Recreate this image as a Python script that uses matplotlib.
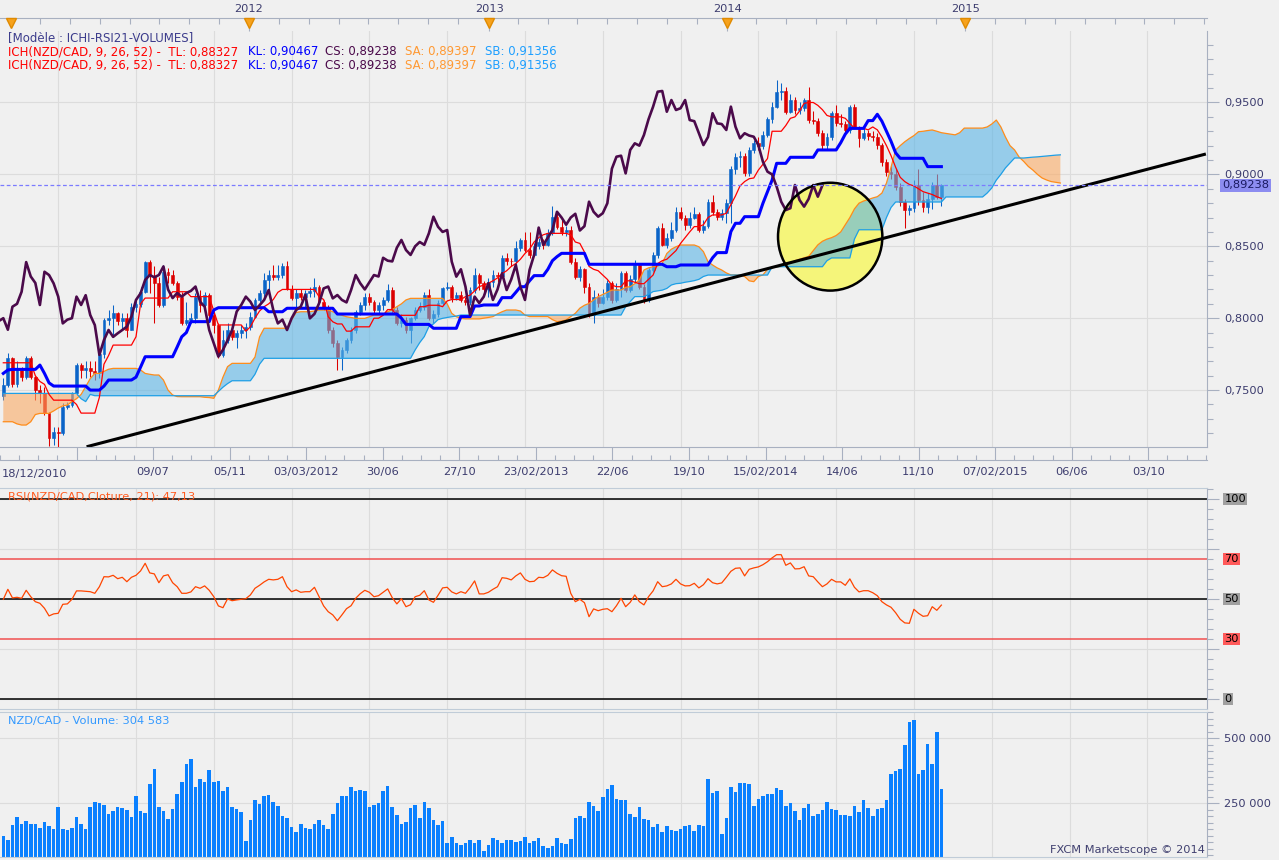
import numpy as np
import matplotlib
matplotlib.use("Agg")
import matplotlib.pyplot as plt
from matplotlib.patches import Ellipse
from matplotlib.ticker import MultipleLocator
import matplotlib.transforms as mtransforms

# ------------------------------------------------------------------ data
# weekly NZD/CAD candles, week 0 = 18/12/2010
first_open = 0.7461
close = [
    .7535, .7720, .7540, .7640, .7590, .7720, .7590, .7500, .7480, .7340,
    .7165, .7211, .7200, .7384, .7396, .7477, .7674, .7640, .7655, .7630,
    .7616, .7750, .7987, .8000, .8034, .7980, .8000, .7920, .8080, .8100,
    .8184, .8390, .8290, .8245, .8092, .8323, .8300, .8242, .8150, .7964,
    .7990, .8000, .8150, .8092, .8160, .8022, .7952, .7745, .7848, .7918,
    .7870, .7895, .7918, .7941, .8011, .8127, .8173, .8266, .8300, .8285,
    .8300, .8360, .8200, .8140, .8175, .8150, .8175, .8190, .8220, .8115,
    .8080, .7918, .7825, .7733, .7780, .7846, .7918, .8046, .8092, .8150,
    .8115, .8057, .8090, .8127, .8196, .8057, .7964, .7990, .7918, .7999,
    .8057, .8080, .8161, .7999, .8030, .8103, .8207, .8220, .8138, .8161,
    .8127, .8110, .8196, .8300, .8243, .8200, .8250, .8300, .8290, .8420,
    .8400, .8395, .8490, .8544, .8474, .8440, .8500, .8530, .8510, .8590,
    .8706, .8636, .8600, .8613, .8393, .8289, .8340, .8219, .8022, .8150,
    .8105, .8150, .8243, .8127, .8200, .8312, .8196, .8270, .8370, .8219,
    .8127, .8335, .8440, .8630, .8510, .8560, .8613, .8740, .8700, .8650,
    .8700, .8726, .8610, .8640, .8810, .8740, .8706, .8730, .8799, .9040,
    .9123, .9130, .9007, .9170, .9216, .9200, .9274, .9383, .9471, .9575,
    .9580, .9436, .9517, .9448, .9460, .9517, .9378, .9370, .9286, .9204,
    .9260, .9425, .9355, .9350, .9309, .9471, .9332, .9251, .9286, .9270,
    .9262, .9204, .9088, .9019, .9000, .8915, .8810, .8752, .8765, .8926,
    .8822, .8776, .8830, .8926, .8845, .8924]
high = [
    .7582, .7755, .7730, .7700, .7660, .7735, .7735, .7600, .7535, .7520,
    .7350, .7245, .7245, .7408, .7420, .7490, .7686, .7686, .7700, .7700,
    .7700, .7755, .7999, .8057, .8092, .8045, .8034, .8034, .8103, .8130,
    .8219, .8396, .8404, .8360, .8289, .8370, .8346, .8335, .8260, .8184,
    .8115, .8034, .8173, .8196, .8184, .8173, .8034, .7964, .7918, .7964,
    .7940, .7918, .7950, .7964, .8040, .8140, .8196, .8312, .8335, .8370,
    .8370, .8382, .8400, .8231, .8200, .8200, .8196, .8220, .8277, .8231,
    .8130, .8092, .7941, .7848, .7800, .7860, .7940, .8060, .8115, .8173,
    .8173, .8127, .8115, .8150, .8240, .8220, .8080, .8030, .8011, .8011,
    .8080, .8115, .8185, .8200, .8057, .8127, .8220, .8254, .8231, .8180,
    .8190, .8150, .8220, .8346, .8312, .8260, .8280, .8335, .8320, .8440,
    .8450, .8420, .8540, .8560, .8600, .8600, .8520, .8560, .8550, .8620,
    .8780, .8740, .8680, .8640, .8640, .8420, .8360, .8350, .8243, .8196,
    .8175, .8200, .8266, .8260, .8243, .8325, .8330, .8300, .8405, .8382,
    .8240, .8350, .8460, .8640, .8660, .8590, .8670, .8775, .8775, .8720,
    .8740, .8776, .8740, .8680, .8830, .8860, .8760, .8760, .8830, .9060,
    .9150, .9160, .9150, .9190, .9240, .9262, .9300, .9400, .9500, .9656,
    .9635, .9610, .9560, .9540, .9500, .9530, .9610, .9440, .9390, .9310,
    .9290, .9440, .9480, .9420, .9370, .9485, .9490, .9340, .9320, .9310,
    .9300, .9290, .9220, .9110, .9060, .9040, .8940, .8830, .8790, .8960,
    .9040, .8880, .8870, .8950, .9000, .8935]
low = [
    .7431, .7523, .7523, .7523, .7560, .7575, .7575, .7431, .7408, .7330,
    .7110, .7118, .7106, .7190, .7370, .7384, .7465, .7582, .7582, .7593,
    .7570, .7582, .7721, .7950, .7880, .7950, .7918, .7871, .7918, .8040,
    .8080, .8173, .8173, .7964, .8080, .8080, .8242, .8230, .8130, .7952,
    .7950, .7964, .7964, .8046, .8060, .8000, .7900, .7721, .7733, .7825,
    .7850, .7790, .7860, .7860, .7920, .7999, .8110, .8150, .8196, .8266,
    .8266, .8280, .8196, .8127, .8080, .8127, .8080, .8150, .8150, .8103,
    .8057, .7900, .7800, .7640, .7640, .7760, .7825, .7900, .8022, .8057,
    .8092, .8034, .8030, .8060, .8115, .8034, .7950, .7941, .7895, .7825,
    .7990, .8040, .8060, .7990, .7964, .8011, .8090, .8196, .8115, .8127,
    .8115, .8090, .8090, .8173, .8196, .8173, .8150, .8220, .8250, .8280,
    .8370, .8360, .8370, .8470, .8460, .8420, .8430, .8480, .8480, .8500,
    .8580, .8620, .8580, .8570, .8380, .8270, .8260, .8173, .8011, .7964,
    .8080, .8100, .8127, .8103, .8110, .8150, .8180, .8180, .8254, .8200,
    .8103, .8110, .8320, .8420, .8500, .8490, .8540, .8600, .8680, .8610,
    .8630, .8690, .8600, .8590, .8630, .8720, .8680, .8680, .8660, .8660,
    .9000, .9050, .8990, .8990, .9150, .9170, .9180, .9260, .9360, .9460,
    .9520, .9420, .9425, .9420, .9420, .9440, .9360, .9350, .9270, .9170,
    .9180, .9240, .9340, .9330, .9290, .9290, .9320, .9190, .9240, .9240,
    .9230, .9180, .9060, .8990, .8970, .8890, .8780, .8627, .8720, .8740,
    .8790, .8740, .8730, .8760, .8830, .8780]
tenkan = [
    .7690, .7690, .7690, .7690, .7690, .7690, .7690, .7600, .7560, .7540,
    .7470, .7430, .7430, .7430, .7430, .7430, .7400, .7340, .7340, .7340,
    .7340, .7450, .7680, .7740, .7813, .7813, .7813, .7813, .7813, .7871,
    .8100, .8140, .8140, .8140, .8140, .8140, .8140, .8184, .8184, .8184,
    .8184, .8150, .8150, .8150, .8150, .8150, .8050, .7953, .7953, .7953,
    .7953, .7953, .7953, .7910, .7940, .8000, .8050, .8080, .8100, .8130,
    .8180, .8200, .8200, .8200, .8200, .8200, .8200, .8200, .8200, .8150,
    .8130, .8010, .7975, .7960, .7960, .7910, .7910, .7940, .7940, .7940,
    .7940, .8000, .8000, .8020, .8060, .8060, .8020, .8020, .8020, .8020,
    .8020, .8080, .8080, .8090, .8090, .8090, .8080, .8120, .8130, .8130,
    .8130, .8150, .8160, .8190, .8220, .8230, .8243, .8260, .8280, .8310,
    .8330, .8360, .8380, .8410, .8450, .8480, .8530, .8560, .8580, .8590,
    .8590, .8590, .8590, .8590, .8580, .8530, .8520, .8460, .8360, .8340,
    .8330, .8300, .8270, .8230, .8219, .8219, .8260, .8260, .8250, .8240,
    .8240, .8270, .8300, .8380, .8400, .8410, .8440, .8470, .8520, .8560,
    .8600, .8637, .8637, .8650, .8700, .8718, .8718, .8718, .8730, .8790,
    .8850, .8920, .8950, .8970, .8975, .9030, .9070, .9110, .9300, .9300,
    .9300, .9340, .9390, .9400, .9440, .9494, .9500, .9500, .9480, .9450,
    .9410, .9400, .9400, .9400, .9390, .9355, .9320, .9320, .9320, .9310,
    .9330, .9310, .9260, .9200, .9130, .9050, .8980, .8950, .8930, .8920,
    .8900, .8880, .8870, .8860, .8845, .8833]
kijun = [
    .7616, .7640, .7644, .7644, .7644, .7644, .7644, .7644, .7674, .7616,
    .7550, .7528, .7528, .7528, .7528, .7528, .7528, .7528, .7528, .7500,
    .7500, .7500, .7528, .7570, .7570, .7570, .7570, .7570, .7570, .7590,
    .7660, .7732, .7732, .7732, .7732, .7732, .7732, .7732, .7800, .7871,
    .7900, .7976, .7976, .7976, .7976, .7976, .8057, .8073, .8073, .8073,
    .8073, .8073, .8073, .8073, .8073, .8073, .8073, .8073, .8045, .8045,
    .8045, .8045, .8069, .8069, .8069, .8069, .8069, .8069, .8069, .8069,
    .8069, .8069, .8069, .8029, .8029, .8029, .8029, .8029, .8029, .8029,
    .8029, .8029, .8029, .8029, .8029, .8029, .8029, .8000, .7957, .7957,
    .7957, .7957, .7957, .7957, .7930, .7930, .7930, .7930, .7930, .7930,
    .8011, .8011, .8011, .8085, .8085, .8092, .8092, .8092, .8092, .8143,
    .8143, .8143, .8180, .8219, .8219, .8260, .8296, .8296, .8296, .8340,
    .8400, .8428, .8451, .8451, .8451, .8451, .8451, .8451, .8375, .8375,
    .8375, .8375, .8375, .8375, .8375, .8375, .8375, .8375, .8375, .8375,
    .8375, .8375, .8375, .8375, .8375, .8358, .8358, .8358, .8370, .8370,
    .8370, .8370, .8370, .8370, .8370, .8420, .8456, .8456, .8456, .8602,
    .8660, .8660, .8706, .8706, .8706, .8706, .8799, .8880, .8960, .9077,
    .9077, .9077, .9119, .9119, .9119, .9119, .9119, .9119, .9170, .9170,
    .9170, .9170, .9170, .9220, .9280, .9320, .9320, .9320, .9320, .9374,
    .9374, .9418, .9370, .9300, .9230, .9150, .9112, .9112, .9112, .9112,
    .9112, .9112, .9054, .9054, .9054, .9054]
# senkou spans, plotted 26 weeks ahead (weeks 0..231)
span_a = [
    .7280, .7280, .7280, .7265, .7257, .7257, .7280, .7330, .7338, .7338,
    .7338, .7355, .7375, .7390, .7396, .7420, .7440, .7470, .7524, .7580,
    .7616, .7616, .7630, .7645, .7651, .7651, .7651, .7651, .7651, .7651,
    .7640, .7616, .7610, .7605, .7605, .7570, .7500, .7466, .7455, .7454,
    .7454, .7454, .7454, .7454, .7450, .7448, .7443, .7500, .7590, .7663,
    .7686, .7686, .7686, .7686, .7686, .7730, .7870, .7930, .7930, .7930,
    .7930, .7930, .7930, .7990, .8040, .8045, .8045, .8045, .8050, .8057,
    .8057, .8057, .8045, .8030, .8020, .8010, .8005, .7999, .7999, .7999,
    .8010, .8022, .8022, .8022, .8045, .8060, .8080, .8100, .8127, .8138,
    .8138, .8138, .8138, .8138, .8138, .8138, .8138, .8100, .8034, .8010,
    .7999, .7995, .7995, .7995, .7995, .8000, .8005, .8011, .8030, .8045,
    .8057, .8057, .8057, .8050, .8022, .8011, .8011, .8011, .8011, .8011,
    .7990, .7976, .7980, .7988, .8011, .8034, .8070, .8090, .8103, .8127,
    .8150, .8165, .8180, .8196, .8196, .8196, .8215, .8219, .8240, .8266,
    .8335, .8350, .8358, .8362, .8382, .8450, .8480, .8497, .8509, .8509,
    .8509, .8509, .8497, .8463, .8393, .8370, .8350, .8335, .8315, .8301,
    .8301, .8301, .8290, .8260, .8254, .8290, .8301, .8340, .8356, .8356,
    .8360, .8375, .8384, .8400, .8410, .8420, .8430, .8470, .8510, .8535,
    .8550, .8560, .8575, .8600, .8650, .8700, .8760, .8800, .8815, .8825,
    .8836, .8845, .8870, .8940, .9050, .9170, .9200, .9227, .9250, .9270,
    .9297, .9300, .9305, .9309, .9300, .9290, .9285, .9280, .9275, .9290,
    .9322, .9322, .9322, .9322, .9322, .9330, .9350, .9378, .9330, .9260,
    .9200, .9170, .9120, .9090, .9055, .9030, .9000, .8975, .8961, .8950,
    .8945, .8940]
span_b = [
    .7477, .7477, .7477, .7477, .7477, .7477, .7477, .7477, .7477, .7477,
    .7477, .7477, .7477, .7477, .7477, .7477, .7477, .7440, .7420, .7470,
    .7461, .7461, .7461, .7461, .7461, .7461, .7461, .7461, .7461, .7461,
    .7461, .7461, .7461, .7461, .7461, .7461, .7461, .7461, .7461, .7461,
    .7461, .7461, .7461, .7461, .7461, .7461, .7461, .7490, .7520, .7545,
    .7565, .7565, .7565, .7565, .7565, .7610, .7680, .7721, .7721, .7721,
    .7721, .7721, .7721, .7721, .7721, .7721, .7721, .7721, .7721, .7721,
    .7721, .7721, .7721, .7721, .7721, .7721, .7721, .7721, .7721, .7721,
    .7721, .7721, .7721, .7721, .7721, .7721, .7721, .7721, .7721, .7721,
    .7779, .7830, .7872, .7941, .7960, .7990, .7999, .8005, .8010, .8015,
    .8022, .8022, .8022, .8022, .8022, .8022, .8022, .8022, .8022, .8022,
    .8022, .8022, .8022, .8022, .8022, .8022, .8022, .8022, .8022, .8022,
    .8022, .8022, .8022, .8022, .8022, .8022, .8022, .8022, .8022, .8022,
    .8022, .8022, .8022, .8022, .8022, .8022, .8080, .8115, .8150, .8150,
    .8150, .8165, .8185, .8190, .8195, .8207, .8231, .8240, .8243, .8250,
    .8255, .8261, .8270, .8290, .8300, .8300, .8300, .8300, .8300, .8300,
    .8300, .8300, .8300, .8300, .8300, .8300, .8300, .8300, .8356, .8358,
    .8358, .8358, .8358, .8358, .8358, .8358, .8358, .8358, .8358, .8358,
    .8400, .8419, .8419, .8419, .8419, .8419, .8550, .8615, .8615, .8615,
    .8615, .8615, .8615, .8700, .8770, .8808, .8808, .8808, .8808, .8808,
    .8808, .8808, .8808, .8808, .8808, .8808, .8843, .8843, .8843, .8843,
    .8843, .8843, .8843, .8843, .8843, .8870, .8905, .8960, .9000, .9045,
    .9080, .9114, .9114, .9114, .9117, .9120, .9122, .9125, .9128, .9131,
    .9134, .9136]
rsi = [
    50.0, 55.0, 50.7, 51.0, 50.5, 54.5, 51.3, 48.8, 48.0, 45.5,
    41.7, 42.7, 43.0, 47.5, 47.7, 50.0, 54.2, 54.2, 54.0, 53.8,
    53.0, 56.3, 61.3, 61.2, 62.0, 60.3, 61.0, 58.8, 61.0, 62.0,
    64.2, 68.0, 63.2, 62.7, 58.3, 61.7, 62.3, 58.3, 56.3, 53.0,
    53.0, 53.7, 56.3, 55.5, 56.7, 54.5, 51.3, 46.7, 45.8, 50.2,
    49.3, 49.7, 50.0, 50.3, 52.2, 55.5, 57.0, 58.7, 60.0, 59.7,
    60.0, 61.3, 56.3, 53.8, 54.7, 53.5, 53.8, 53.8, 56.0, 51.3,
    46.7, 43.8, 42.2, 39.3, 42.2, 45.3, 46.8, 50.5, 52.8, 54.5,
    53.5, 51.3, 51.8, 53.5, 55.2, 50.8, 47.7, 50.3, 46.3, 47.3,
    51.3, 52.0, 54.3, 49.7, 48.5, 52.0, 55.7, 56.0, 53.7, 52.7,
    53.8, 53.0, 55.8, 59.2, 52.7, 52.7, 53.5, 55.0, 56.3, 60.8,
    60.5, 59.7, 61.7, 63.2, 60.0, 58.8, 59.0, 61.0, 60.8, 62.0,
    64.7, 63.0, 61.8, 61.5, 53.0, 48.8, 50.0, 48.3, 41.3, 45.2,
    44.3, 45.0, 45.3, 43.8, 46.8, 50.5, 46.3, 48.5, 52.2, 48.8,
    47.2, 51.3, 54.2, 58.8, 56.3, 56.7, 57.7, 60.0, 57.7, 56.7,
    56.8, 58.0, 55.7, 57.3, 60.3, 58.3, 57.7, 58.2, 61.0, 64.0,
    65.5, 65.7, 61.7, 65.0, 65.7, 66.2, 67.3, 68.8, 70.7, 72.3,
    72.3, 67.0, 68.2, 65.2, 65.3, 66.3, 61.7, 61.3, 58.7, 56.3,
    57.7, 60.0, 58.7, 58.7, 57.0, 60.2, 56.0, 53.7, 54.3, 54.3,
    53.3, 51.8, 48.8, 47.2, 46.0, 43.3, 40.0, 38.2, 38.0, 45.0,
    43.0, 41.5, 41.8, 46.3, 44.5, 47.1]
volume_k = [
    124, 109, 167, 196, 170, 182, 170, 170, 154, 177,
    163, 151, 236, 151, 147, 155, 196, 170, 151, 236,
    255, 251, 243, 209, 220, 236, 232, 223, 197, 278,
    220, 213, 324, 382, 236, 220, 190, 228, 286, 332,
    401, 420, 313, 343, 332, 378, 332, 336, 297, 313,
    236, 228, 217, 105, 186, 263, 247, 278, 282, 255,
    240, 201, 193, 159, 140, 170, 155, 151, 170, 186,
    167, 151, 209, 251, 278, 278, 313, 297, 301, 297,
    236, 243, 251, 297, 317, 236, 205, 170, 178, 232,
    243, 193, 255, 232, 186, 167, 182, 97, 120, 97,
    90, 97, 109, 97, 109, 68, 90, 116, 109, 97,
    109, 109, 101, 105, 120, 97, 105, 116, 86, 78,
    86, 116, 97, 93, 113, 193, 201, 193, 255, 240,
    220, 274, 305, 320, 267, 263, 263, 209, 197, 236,
    190, 186, 159, 170, 140, 163, 147, 143, 151, 163,
    167, 143, 167, 163, 343, 290, 297, 132, 193, 313,
    293, 328, 328, 324, 240, 267, 278, 286, 286, 309,
    301, 240, 251, 220, 186, 232, 247, 201, 209, 224,
    255, 228, 224, 205, 205, 201, 240, 217, 263, 232,
    201, 228, 232, 263, 363, 374, 382, 474, 563, 570,
    363, 378, 478, 401, 524, 305]

grid_weeks = [12, 29, 46, 63, 80, 97, 114, 131, 148, 165, 182, 199, 216, 233, 250]
date_labels = ['', '09/07', '05/11', '03/03/2012', '30/06', '27/10', '23/02/2013',
               '22/06', '19/10', '15/02/2014', '14/06', '11/10', '07/02/2015',
               '06/06', '03/10']
first_date_label = '18/12/2010'
year_weeks = [53.7, 106.2, 158.2, 210.2]
year_labels = ['2012', '2013', '2014', '2015']
nav_marker_weeks = [1.7, 53.7, 106.2, 158.2, 210.2]
trend_weeks = [18.2, 262.8]
trend_prices = [0.7106, 0.9142]
circle_center = (180.7, 0.8567)
circle_w, circle_h = 22.8, 0.075
displacement = 26
last_price = 0.89238
legend_tl, legend_kl, legend_cs, legend_sa, legend_sb = 0.88327, 0.90467, 0.89238, 0.89397, 0.91356
rsi_last = 47.13
volume_last = 304583
price_ticks = [0.75, 0.80, 0.85, 0.90, 0.95]
rsi_levels = [100, 70, 50, 30, 0]

assert len(close) == len(high) == len(low) == len(tenkan) == len(kijun) == len(rsi) == len(volume_k) == 206
assert len(span_a) == len(span_b) == 232

# ------------------------------------------------------------------ layout
W, H = 1279, 860
BG = '#f0f0f0'
GRID = '#dcdcdc'
AXC = '#a8b0c0'
LBL = '#3c3c6e'
FS = 8.2
plt.rcParams['font.family'] = 'DejaVu Sans'

fig = plt.figure(figsize=(W / 100, H / 100), dpi=100)
fig.patch.set_facecolor(BG)

PLOT_R = 1207
X0, DX = 3.3, 4.576
XLIM = (-X0 / DX, (PLOT_R - X0) / DX)


def add_ax(x0, y0, x1, y1):
    a = fig.add_axes([x0 / W, 1 - y1 / H, (x1 - x0) / W, (y1 - y0) / H])
    a.set_facecolor(BG)
    a.set_xlim(*XLIM)
    return a


def ftext(x, y, s, **kw):
    kw.setdefault('va', 'center')
    kw.setdefault('fontsize', FS)
    fig.text(x / W, 1 - y / H, s, **kw)


def fmt5(v):
    return f"{v:.5f}".replace('.', ',')


close = np.array(close); high = np.array(high); low = np.array(low)
opens = np.r_[first_open, close[:-1]]
weeks = np.arange(len(close))
cw = np.arange(len(span_a))
sa = np.array(span_a); sb = np.array(span_b)

# ------------------------------------------------------------------ main panel
ax = add_ax(0, 31, PLOT_R, 447)
ax.set_ylim(0.71043, 0.99972)
ax.set_axisbelow(True)
for s in ['left', 'bottom', 'top']:
    ax.spines[s].set_visible(False)
ax.spines['right'].set_color(AXC)
ax.set_xticks(grid_weeks)
ax.tick_params(axis='x', length=0, labelbottom=False)
ax.yaxis.tick_right()
ax.set_yticks(price_ticks)
ax.set_yticklabels([f"{v:.4f}".replace('.', ',') for v in price_ticks])
ax.yaxis.set_minor_locator(MultipleLocator(0.01))
ax.tick_params(axis='y', which='major', direction='out', length=8.6, width=0.8,
               color=AXC, pad=3.6, labelsize=FS, labelcolor=LBL)
ax.tick_params(axis='y', which='minor', direction='out', length=4, width=0.8, color=AXC)
ax.grid(True, which='major', color=GRID, lw=0.8)

# yellow circle (fill under everything)
ax.add_patch(Ellipse(circle_center, circle_w, circle_h, facecolor='#f5f57a',
                     edgecolor='none', zorder=1.5))

UP, DN = '#0a64c8', '#dc0000'
up = close >= opens
dn = ~up
for m, c in ((up, UP), (dn, DN)):
    ax.vlines(weeks[m], low[m], high[m], color=c, lw=0.75, zorder=2)
    ax.bar(weeks[m], close[m] - opens[m], bottom=opens[m], width=0.62,
           color=c, edgecolor=c, linewidth=0.4, zorder=2.1)

# cloud
ax.fill_between(cw, sa, sb, where=sa >= sb, interpolate=True, color='#5ab4e6',
                alpha=0.6, lw=0, zorder=3)
ax.fill_between(cw, sa, sb, where=sa < sb, interpolate=True, color='#fbaa64',
                alpha=0.6, lw=0, zorder=3)
ax.plot(cw, sa, color='#ff8c1a', lw=0.9, zorder=4)
ax.plot(cw, sb, color='#1e9fe6', lw=0.9, zorder=4)

ax.plot(weeks, tenkan, color='#ff0000', lw=0.9, zorder=5)
ax.plot(weeks, kijun, color='#0000ff', lw=2.2, zorder=5)
ax.plot(weeks - displacement, close, color='#4b0a4b', lw=1.9, zorder=6)

ax.plot(trend_weeks, trend_prices, color='black', lw=2.2, zorder=7,
        solid_capstyle='butt')
ax.add_patch(Ellipse(circle_center, circle_w, circle_h, fill=False,
                     edgecolor='black', lw=1.8, zorder=7))
ax.axhline(last_price, color='#7b7bff', lw=0.9, ls=(0, (3, 2)), zorder=8)
ax.text(1.0125, last_price, fmt5(last_price),
        transform=mtransforms.blended_transform_factory(ax.transAxes, ax.transData),
        ha='left', va='center', fontsize=FS, color='#1a1a60',
        bbox=dict(boxstyle='square,pad=0.15', fc='#8c8cf0', ec='none'), clip_on=False)

# legend texts
LFS = 8.5
ftext(8, 38, '[Modèle : ICHI-RSI21-VOLUMES]', color='#3c3c8c', fontsize=LFS)
for yy in (52, 65):
    ftext(8, yy, 'ICH(NZD/CAD, 9, 26, 52) -  TL: ' + fmt5(legend_tl), color='#ff0000', fontsize=LFS)
    ftext(248, yy, 'KL: ' + fmt5(legend_kl), color='#0000ff', fontsize=LFS)
    ftext(325, yy, 'CS: ' + fmt5(legend_cs), color='#4b0a4b', fontsize=LFS)
    ftext(405, yy, 'SA: ' + fmt5(legend_sa), color='#ff9933', fontsize=LFS)
    ftext(485, yy, 'SB: ' + fmt5(legend_sb), color='#1e9fff', fontsize=LFS)

# ------------------------------------------------------------------ navigator strip
nav = add_ax(0, 18, PLOT_R, 31)
nav.patch.set_alpha(0)
nav.set_ylim(0, 1)
for s in ['left', 'right', 'bottom']:
    nav.spines[s].set_visible(False)
nav.spines['top'].set_color(AXC)
nav.xaxis.tick_top()
nav.set_xticks(year_weeks)
nav.set_xticklabels(year_labels)
nav.set_xticks(np.arange(year_weeks[0] - 52.18, XLIM[1], 52.18 / 8), minor=True)
nav.set_yticks([])
nav.tick_params(axis='x', which='major', direction='in', length=9, width=0.8,
                color=AXC, pad=3.0, labelsize=FS, labelcolor=LBL)
nav.tick_params(axis='x', which='minor', direction='in', length=4.3, width=0.8, color=AXC)
nav.plot(nav_marker_weeks, [0.6] * len(nav_marker_weeks), 'v', color='#f7a21c',
         markeredgecolor='#e08a00', markersize=7, clip_on=False, zorder=5)

# ------------------------------------------------------------------ date ruler
rul = add_ax(0, 447, PLOT_R, 460)
rul.set_ylim(0, 1)
for s in ['left', 'right']:
    rul.spines[s].set_visible(False)
for s in ['top', 'bottom']:
    rul.spines[s].set_color(AXC)
rul.set_xticks(grid_weeks)
rul.set_xticklabels(date_labels)
rul.set_xticks(np.arange(grid_weeks[0] - 17, XLIM[1], 17 / 4), minor=True)
rul.set_yticks([])
rul.tick_params(axis='x', which='major', direction='in', length=9.4, width=0.8,
                color=AXC, pad=5.2, labelsize=FS, labelcolor=LBL)
rul.tick_params(axis='x', which='minor', direction='in', length=3.6, width=0.8, color=AXC)
ftext(2, 474, first_date_label, ha='left', color=LBL)

# ------------------------------------------------------------------ RSI panel
rx = add_ax(0, 488, PLOT_R, 709)
rx.set_ylim(-4.85, 105.65)
rx.set_axisbelow(True)
rx.spines['left'].set_visible(False)
for s in ['top', 'bottom']:
    rx.spines[s].set_color('#c0ccd8')
rx.spines['right'].set_color(AXC)
rx.set_xticks(grid_weeks)
rx.tick_params(axis='x', length=0, labelbottom=False)
rx.yaxis.tick_right()
rx.set_yticks([0, 25, 50, 75, 100])
rx.set_yticklabels([])
rx.yaxis.set_minor_locator(MultipleLocator(5))
rx.tick_params(axis='y', which='major', direction='out', length=8.6, width=0.8, color=AXC)
rx.tick_params(axis='y', which='minor', direction='out', length=4, width=0.8, color=AXC)
rx.grid(True, which='major', color=GRID, lw=0.8)
for lv in rsi_levels:
    rx.axhline(lv, color='#f05050' if lv in (30, 70) else 'black', lw=1.1, zorder=2)
rx.plot(weeks, rsi, color='#ff4500', lw=0.9, zorder=3)
btr = mtransforms.blended_transform_factory(rx.transAxes, rx.transData)
for lv in rsi_levels:
    rx.text(1.0145, lv, str(lv), transform=btr, ha='left', va='center', fontsize=FS,
            color='black', clip_on=False,
            bbox=dict(boxstyle='square,pad=0.1',
                      fc='#ff5a5a' if lv in (30, 70) else '#a0a0a0', ec='none'))
ftext(8, 496, f"RSI(NZD/CAD,Cloture, 21): {rsi_last:.2f}".replace('.', ','), color='#ff5a1e')

# ------------------------------------------------------------------ volume panel
vx = add_ax(0, 712, PLOT_R, 857)
vx.set_ylim(43.5, 601)
vx.set_axisbelow(True)
vx.spines['left'].set_visible(False)
for s in ['top', 'bottom']:
    vx.spines[s].set_color('#c0ccd8')
vx.spines['right'].set_color(AXC)
vx.set_xticks(grid_weeks)
vx.tick_params(axis='x', length=0, labelbottom=False)
vx.yaxis.tick_right()
vx.set_yticks([250, 500])
vx.set_yticklabels(['250 000', '500 000'])
vx.yaxis.set_minor_locator(MultipleLocator(25))
vx.tick_params(axis='y', which='major', direction='out', length=8.6, width=0.8,
               color=AXC, pad=3.6, labelsize=FS, labelcolor=LBL)
vx.tick_params(axis='y', which='minor', direction='out', length=4, width=0.8, color=AXC)
vx.grid(True, which='major', color=GRID, lw=0.8)
vx.bar(weeks, volume_k, width=0.78, color='#0a80ff', zorder=2)
ftext(8, 721, f"NZD/CAD - Volume: {volume_last:,}".replace(',', ' '), color='#3399ff')
ftext(1205, 850, 'FXCM Marketscope © 2014', ha='right', color='#404070')

fig.savefig('out.png', dpi=100, facecolor=BG)
